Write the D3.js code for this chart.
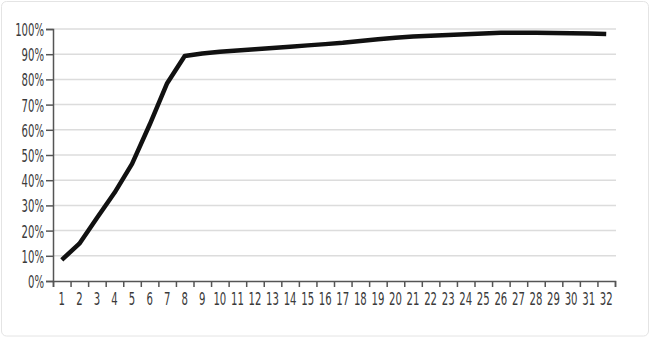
<!DOCTYPE html>
<html>
<head>
<meta charset="utf-8">
<script src="https://cdn.jsdelivr.net/npm/d3@7"></script>
<style>
  html, body { margin: 0; padding: 0; background: #fff; }
  svg { display: block; }
  .tick text { font-family: "DejaVu Sans Condensed", "DejaVu Sans", sans-serif; font-size: 17px; fill: #3a3a3a; }
</style>
</head>
<body>
<div id="chart"></div>
<script>
// x categories and the y values (percent)
const steps = d3.range(1, 33);
const share = [8.4, 14.8, 25, 35, 46.5, 62, 78.5, 89.3, 90.3, 91, 91.5, 92, 92.5, 93, 93.5, 94,
               94.5, 95.2, 95.9, 96.5, 97, 97.3, 97.6, 97.9, 98.2, 98.5, 98.5, 98.5, 98.4, 98.3, 98.2, 98];
const yTicks = [0, 10, 20, 30, 40, 50, 60, 70, 80, 90, 100];

const width = 650, height = 337;
const margin = {top: 29, right: 35, bottom: 56, left: 53};
const sx = 0.66; // the labels use a very narrow face
const squeeze = `scale(${sx},1)`;

const svg = d3.select("#chart").append("svg")
    .attr("width", width)
    .attr("height", height);

// light frame around the whole picture
svg.append("rect")
    .attr("x", 1.5).attr("y", 1.5)
    .attr("width", width - 3).attr("height", height - 2.5)
    .attr("rx", 5)
    .attr("fill", "#fff")
    .attr("stroke", "#e4e4e4");

const x = d3.scaleBand()
    .domain(steps)
    .range([margin.left, width - margin.right]);
// same range, used for the tick marks between the bands
const xEdge = d3.scaleLinear()
    .domain([0, steps.length])
    .range([margin.left, width - margin.right]);
const y = d3.scaleLinear()
    .domain([0, 100])
    .range([height - margin.bottom, margin.top]);

// gridlines
svg.append("g")
    .selectAll("line")
    .data(yTicks.filter(d => d > 0))
    .join("line")
      .attr("x1", margin.left)
      .attr("x2", width - margin.right + 1)
      .attr("y1", d => y(d))
      .attr("y2", d => y(d))
      .attr("stroke", "#dcdcdc")
      .attr("stroke-width", 1.5);

// y axis
const gy = svg.append("g")
    .attr("transform", `translate(${margin.left},0)`)
    .call(d3.axisLeft(y).tickValues(yTicks).tickFormat(d => d + "%").tickSize(7).tickPadding(2));
gy.select(".domain").attr("stroke", "#555").attr("stroke-width", 1.5);
gy.selectAll(".tick line").attr("stroke", "#555").attr("stroke-width", 1.5);
gy.selectAll(".tick text")
    .attr("x", -9 / sx)   // keep the gap to the tick after squeezing
    .attr("transform", squeeze)
    .attr("dy", "0.38em");

// x axis: marks at band edges
const gxe = svg.append("g")
    .attr("transform", `translate(0,${height - margin.bottom})`)
    .call(d3.axisBottom(xEdge).ticks(steps.length).tickFormat("").tickSize(6).tickSizeOuter(6));
gxe.select(".domain").attr("stroke", "#555").attr("stroke-width", 1.5);
gxe.selectAll(".tick line").attr("stroke", "#555").attr("stroke-width", 1.5);

// x axis labels at band centres
const gx = svg.append("g")
    .attr("transform", `translate(0,${height - margin.bottom})`)
    .call(d3.axisBottom(x).tickSize(0).tickPadding(12));
gx.select(".domain").remove();
gx.selectAll(".tick text").attr("transform", squeeze);

// the line
const line = d3.line()
    .x((d, i) => x(steps[i]) + x.bandwidth() / 2)
    .y(d => y(d));

svg.append("path")
    .datum(share)
    .attr("fill", "none")
    .attr("stroke", "#111")
    .attr("stroke-width", 4.5)
    .attr("stroke-linejoin", "round")
    .attr("d", line);
</script>
</body>
</html>
